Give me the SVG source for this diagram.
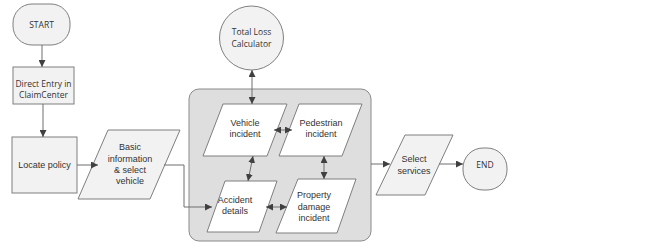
<svg xmlns="http://www.w3.org/2000/svg" width="652" height="247" viewBox="0 0 652 247">
<defs>
<marker id="ah" viewBox="0 0 10 10" refX="10" refY="5" markerWidth="7" markerHeight="7" markerUnits="userSpaceOnUse" orient="auto-start-reverse">
<path d="M0,0 L10,5 L0,10 z" fill="#404040"/>
</marker>
<style>
.n{fill:#f2f2f2;stroke:#7f7f7f;stroke-width:1}
.w{fill:#ffffff;stroke:#7f7f7f;stroke-width:1}
.c{fill:none;stroke:#6f6f6f;stroke-width:1}
.t{font-family:"Liberation Sans",Arial,sans-serif;font-size:9px;fill:#333333;text-anchor:middle}
.s{font-family:"Open Sans","Liberation Sans",sans-serif;font-size:8.5px;fill:#333333;text-anchor:middle}
</style>
</defs>
<rect width="652" height="247" fill="#ffffff"/>
<g id="container"><rect x="189" y="89" width="182" height="152" rx="10" fill="#dedede" stroke="#8a8a8a"/></g>
<g id="start"><rect class="n" x="13" y="4" width="57" height="41" rx="19"/><text class="s" x="41.5" y="28" font-size="10">START</text></g>
<g id="direct"><rect class="n" x="13" y="67" width="61" height="37"/><text class="s" x="43.5" y="87">Direct Entry in</text><text class="s" x="43.5" y="98">ClaimCenter</text></g>
<g id="locate"><rect class="n" x="12" y="137" width="65" height="56"/><text class="t" x="44.5" y="168">Locate policy</text></g>
<g id="basic"><polygon class="n" points="108,130 180,130 150,199 78,199"/><text class="t" x="130" y="150">Basic</text><text class="t" x="130" y="162">information</text><text class="t" x="130" y="173">&amp; select</text><text class="t" x="130" y="184">vehicle</text></g>
<g id="totalloss"><circle class="n" cx="251.5" cy="38" r="32"/><text class="s" x="251.5" y="35">Total Loss</text><text class="s" x="251.5" y="47">Calculator</text></g>
<g id="vehicle"><polygon class="w" points="223,104 287,104 267,156 203,156"/><text class="t" x="245" y="126">Vehicle</text><text class="t" x="245" y="137">incident</text></g>
<g id="pedestrian"><polygon class="w" points="299,104 362,104 342,156 279,156"/><text class="t" x="321" y="126">Pedestrian</text><text class="t" x="321" y="137">incident</text></g>
<g id="accident"><polygon class="w" points="225,181 277,181 259,232 207,232"/><text class="t" x="235" y="203">Accident</text><text class="t" x="235" y="214">details</text></g>
<g id="property"><polygon class="w" points="298,179 356,179 337,233 276,233"/><text class="t" x="314" y="198">Property</text><text class="t" x="314" y="210">damage</text><text class="t" x="314" y="221">incident</text></g>
<g id="select"><polygon class="n" points="405,135 453,135 425,195 376,195"/><text class="t" x="414" y="162">Select</text><text class="t" x="414" y="174">services</text></g>
<g id="end"><rect class="n" x="463" y="148" width="44" height="42" rx="20"/><text class="s" x="485" y="168">END</text></g>
<g id="connectors">
<line class="c" x1="42" y1="45" x2="42" y2="67" marker-end="url(#ah)"/>
<line class="c" x1="43" y1="104" x2="43" y2="137" marker-end="url(#ah)"/>
<line class="c" x1="77" y1="165" x2="98" y2="165" marker-end="url(#ah)"/>
<polyline class="c" points="164,165 184,165 184,207 212,207" marker-end="url(#ah)"/>
<line class="c" x1="252" y1="70" x2="252" y2="104" marker-start="url(#ah)" marker-end="url(#ah)"/>
<line class="c" x1="274" y1="130" x2="292" y2="130" marker-start="url(#ah)" marker-end="url(#ah)"/>
<line class="c" x1="253" y1="156" x2="248" y2="181" marker-start="url(#ah)" marker-end="url(#ah)"/>
<line class="c" x1="324" y1="156" x2="324" y2="179" marker-start="url(#ah)" marker-end="url(#ah)"/>
<line class="c" x1="266" y1="207" x2="287" y2="207" marker-start="url(#ah)" marker-end="url(#ah)"/>
<line class="c" x1="371" y1="164" x2="390" y2="164" marker-end="url(#ah)"/>
<line class="c" x1="439" y1="164" x2="463" y2="164" marker-end="url(#ah)"/>
</g>
</svg>
